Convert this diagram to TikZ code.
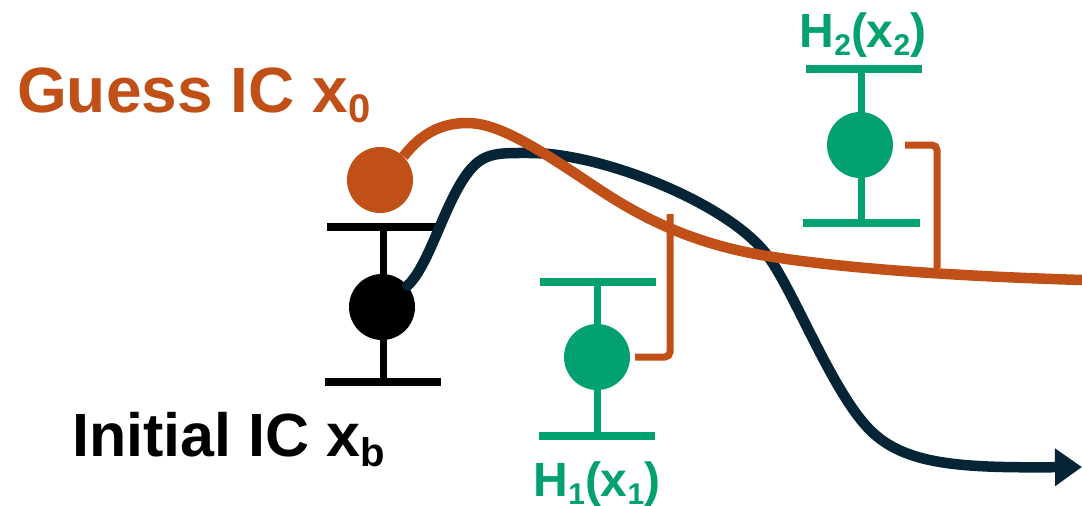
\documentclass[tikz,border=0pt]{standalone}
\usepackage{fontspec}
\setmainfont{Liberation Sans}
\usetikzlibrary{arrows.meta}
\definecolor{rust}{RGB}{192,80,23}
\definecolor{obsgreen}{RGB}{3,160,114}
\definecolor{navy}{RGB}{5,37,54}
\newcommand{\bigsub}[1]{\raisebox{-10pt}{\fontsize{40}{40}\selectfont #1}}
\newcommand{\smallsub}[1]{\raisebox{-8pt}{\fontsize{30}{30}\selectfont #1}}
\tikzset{
  dot/.style={circle, fill=#1, inner sep=0pt, minimum size=66pt},
  bar/.style={line width=8pt, draw=#1},
  stem/.style={line width=7pt, draw=#1},
  traj/.style={line width=10.5pt, line cap=round},
  conn/.style={line width=7pt, draw=rust, rounded corners=5pt},
  biglabel/.style={font=\fontsize{64}{70}\selectfont\bfseries, inner sep=0pt, anchor=base west},
  obslabel/.style={font=\fontsize{48}{52}\selectfont\bfseries, inner sep=0pt, anchor=base, text=obsgreen},
}
\begin{document}
\begin{tikzpicture}[x=1pt,y=-1pt]
\useasboundingbox (0,0) rectangle (1082,506);

% labels
\node[biglabel, text=rust] (guess) at (17,112) {Guess IC x\bigsub{0}};
\node[biglabel, text=black, font=\fontsize{61}{66}\selectfont\bfseries] (initial) at (72,456) {Initial IC x\bigsub{b}};
\node[obslabel] (h1lab) at (597,496) {H\smallsub{1}(x\smallsub{1})};
\node[obslabel] (h2lab) at (863,47) {H\smallsub{2}(x\smallsub{2})};

% error bars
\coordinate (bt) at (383,227); \coordinate (bb) at (383,382);
\draw[stem=black] (bt) -- (bb);
\draw[bar=black] (327,227) -- (443,227);
\draw[bar=black] (325,382) -- (441,382);

\coordinate (g1t) at (597,282); \coordinate (g1b) at (597,436);
\draw[stem=obsgreen] (g1t) -- (g1b);
\draw[bar=obsgreen] (540,282) -- (656,282);
\draw[bar=obsgreen] (539,436) -- (655,436);

\coordinate (g2t) at (861,69); \coordinate (g2b) at (861,223);
\draw[stem=obsgreen] (g2t) -- (g2b);
\draw[bar=obsgreen] (806,69) -- (922,69);
\draw[bar=obsgreen] (803,223) -- (920,223);

% points
\node[dot=rust] (x0) at (380,180) {};
\node[dot=black] (xb) at (382,307) {};
\node[dot=obsgreen] (h1) at (597,357) {};
\node[dot=obsgreen] (h2) at (860,145) {};

% background trajectory
\coordinate (bend) at (1082,467);
\draw[traj, draw=navy, -{Triangle[length=27pt,width=36pt]}]
  (xb.40) .. controls (430,265) and (445,200) .. (470,170)
  .. controls (485,152) and (500,153) .. (530,153)
  .. controls (600,153) and (720,200) .. (763,250)
  .. controls (790,280) and (830,390) .. (870,430)
  .. controls (905,465) and (960,468) .. (bend);

% guess trajectory
\coordinate (gend) at (1082,280);
\draw[traj, draw=rust, line cap=butt]
  (x0.45) .. controls (420,135) and (440,123) .. (467,123)
  .. controls (500,123) and (540,150) .. (600,190)
  .. controls (650,223) and (700,245) .. (767,256)
  .. controls (840,268) and (950,276) .. (gend);

% innovations connectors
\coordinate (c1) at (670,214);
\coordinate (c2) at (937,268);
\draw[conn] ([xshift=5pt]h1.east) -| (c1);
\draw[conn] ([xshift=12pt]h2.east) -| (c2);
\end{tikzpicture}
\end{document}
